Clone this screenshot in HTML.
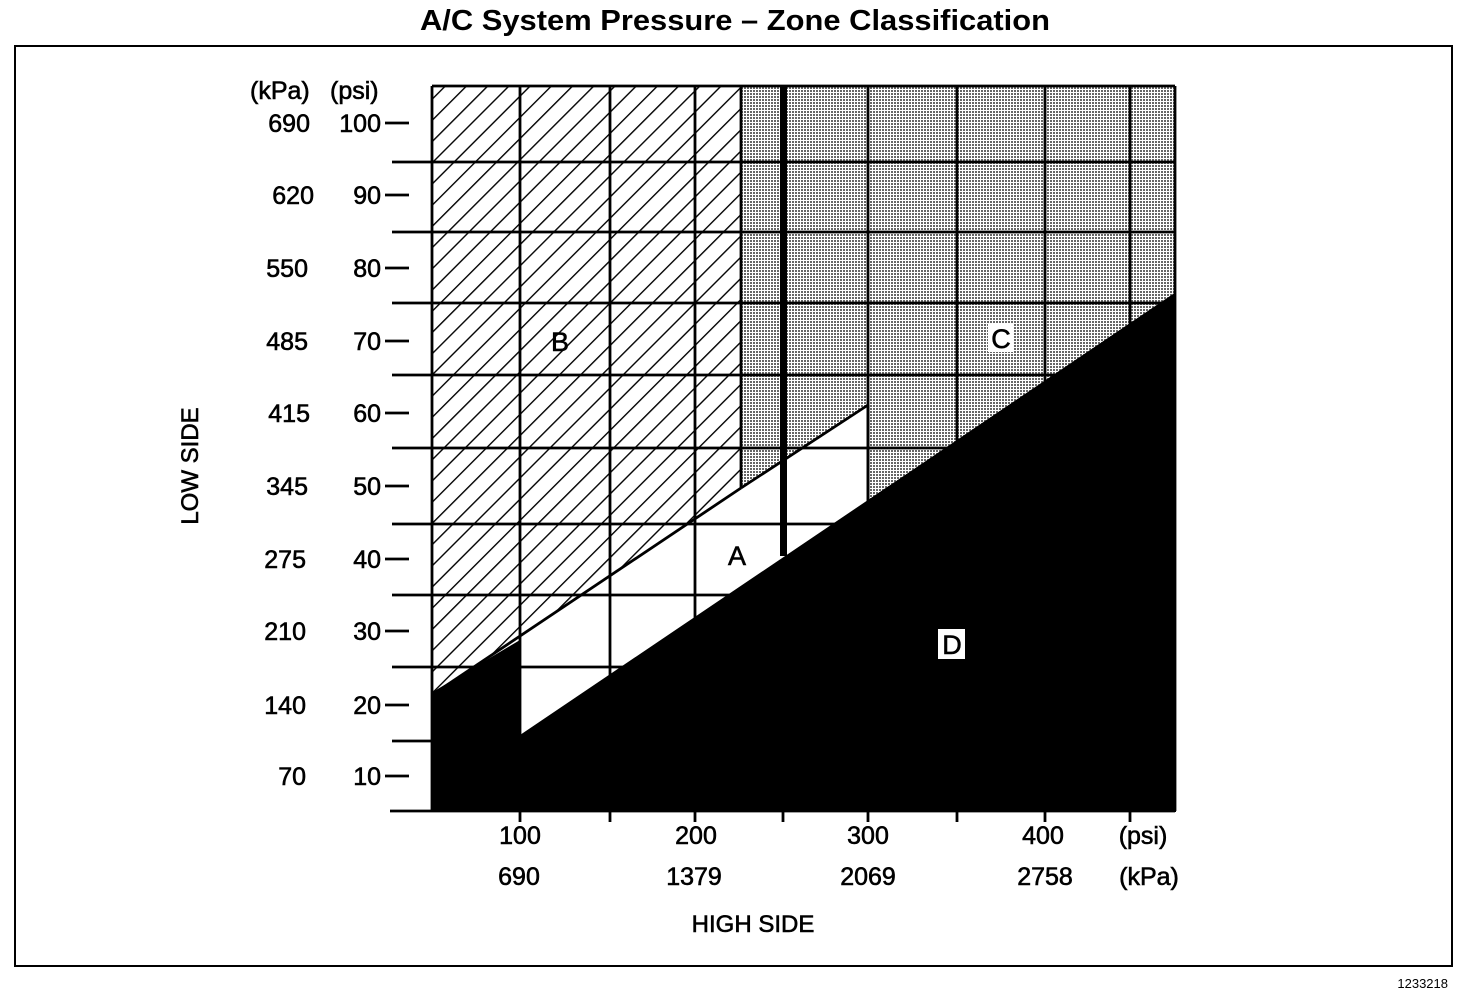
<!DOCTYPE html>
<html><head><meta charset="utf-8"><style>
html,body{margin:0;padding:0;background:#fff;}
svg{display:block;}
text{font-family:"Liberation Sans",Arial,sans-serif;fill:#000;}
</style></head><body>
<svg width="1472" height="1006" viewBox="0 0 1472 1006" xmlns="http://www.w3.org/2000/svg">
<defs>
<pattern id="hatch" patternUnits="userSpaceOnUse" width="15" height="15" patternTransform="rotate(45)">
<rect width="15" height="15" fill="#fff"/>
<line x1="0" y1="0" x2="0" y2="15" stroke="#000" stroke-width="2.8"/>
</pattern>
<pattern id="stip" patternUnits="userSpaceOnUse" width="3" height="3">
<rect width="3" height="3" fill="#fff"/>
<rect width="2" height="2" fill="#000" opacity="0.6"/>
</pattern>
</defs>
<text x="735" y="30" font-size="29" font-weight="bold" text-anchor="middle" textLength="630" lengthAdjust="spacingAndGlyphs">A/C System Pressure – Zone Classification</text>
<rect x="15" y="46" width="1437" height="920" fill="none" stroke="#000" stroke-width="2"/>
<polygon points="432,86 741,86 741,488 432,695" fill="url(#hatch)"/>
<polygon points="741,86 1175,86 1175,294 868,501 868,405 741,488" fill="url(#stip)"/>
<g stroke="#000" stroke-width="2.8">
<line x1="432" y1="86" x2="1175" y2="86"/>
<line x1="392" y1="162" x2="1175" y2="162"/>
<line x1="392" y1="232" x2="1175" y2="232"/>
<line x1="392" y1="303" x2="1175" y2="303"/>
<line x1="392" y1="375" x2="1175" y2="375"/>
<line x1="392" y1="448" x2="1175" y2="448"/>
<line x1="392" y1="524" x2="1175" y2="524"/>
<line x1="392" y1="595" x2="1175" y2="595"/>
<line x1="392" y1="667" x2="1175" y2="667"/>
<line x1="392" y1="741" x2="1175" y2="741"/>
<line x1="390" y1="811" x2="1175" y2="811"/>
<line x1="432" y1="86" x2="432" y2="811"/>
<line x1="1175" y1="86" x2="1175" y2="811"/>
<line x1="520" y1="86" x2="520" y2="822"/>
<line x1="610" y1="86" x2="610" y2="822"/>
<line x1="695" y1="86" x2="695" y2="822"/>
<line x1="741" y1="86" x2="741" y2="488"/>
<line x1="868" y1="86" x2="868" y2="822"/>
<line x1="957" y1="86" x2="957" y2="822"/>
<line x1="1045" y1="86" x2="1045" y2="822"/>
<line x1="1130" y1="86" x2="1130" y2="822"/>
<line x1="783" y1="811" x2="783" y2="822"/>
<line x1="385" y1="123" x2="409" y2="123"/>
<line x1="385" y1="195" x2="409" y2="195"/>
<line x1="385" y1="268" x2="409" y2="268"/>
<line x1="385" y1="341" x2="409" y2="341"/>
<line x1="385" y1="413" x2="409" y2="413"/>
<line x1="385" y1="486" x2="409" y2="486"/>
<line x1="385" y1="559" x2="409" y2="559"/>
<line x1="385" y1="631" x2="409" y2="631"/>
<line x1="385" y1="705" x2="409" y2="705"/>
<line x1="385" y1="776" x2="409" y2="776"/>
</g>
<g stroke="#000" stroke-width="2.8" fill="none">
<line x1="432" y1="695" x2="741" y2="488"/>
<line x1="741" y1="488" x2="868" y2="405"/>
<line x1="868" y1="405" x2="868" y2="501"/>
</g>
<rect x="780" y="86" width="7" height="470" fill="#000"/>
<polygon points="431,812 431,693 520,640 520,735 1176,292 1176,812" fill="#000"/>
<g font-size="25" stroke="#000" stroke-width="0.6">
<text x="250" y="99">(kPa)</text><text x="330" y="99">(psi)</text>
<g text-anchor="end">
<text x="310" y="132">690</text><text x="381" y="132">100</text>
<text x="314" y="204">620</text><text x="381" y="204">90</text>
<text x="308" y="277">550</text><text x="381" y="277">80</text>
<text x="308" y="350">485</text><text x="381" y="350">70</text>
<text x="310" y="422">415</text><text x="381" y="422">60</text>
<text x="308" y="495">345</text><text x="381" y="495">50</text>
<text x="306" y="568">275</text><text x="381" y="568">40</text>
<text x="306" y="640">210</text><text x="381" y="640">30</text>
<text x="306" y="714">140</text><text x="381" y="714">20</text>
<text x="306" y="785">70</text><text x="381" y="785">10</text>
</g>
<g text-anchor="middle">
<text x="520" y="844">100</text><text x="696" y="844">200</text><text x="868" y="844">300</text><text x="1043" y="844">400</text><text x="1143" y="844">(psi)</text>
<text x="519" y="885">690</text><text x="694" y="885">1379</text><text x="868" y="885">2069</text><text x="1045" y="885">2758</text><text x="1149" y="885">(kPa)</text>
</g>
<text x="753" y="932" text-anchor="middle" font-size="24">HIGH SIDE</text>
<text transform="translate(198,466) rotate(-90)" text-anchor="middle" font-size="24">LOW SIDE</text>
<text x="560" y="351" text-anchor="middle" font-size="27">B</text>
<text x="737" y="565" text-anchor="middle" font-size="27">A</text>
<rect x="988" y="323" width="26" height="29" fill="#fff" stroke="none"/>
<text x="1001" y="348" text-anchor="middle" font-size="27">C</text>
<rect x="938" y="629" width="27" height="30" fill="#fff" stroke="none"/>
<text x="952" y="654" text-anchor="middle" font-size="27">D</text>
</g>
<text x="1448" y="988" text-anchor="end" font-size="13">1233218</text>
</svg>
</body></html>
